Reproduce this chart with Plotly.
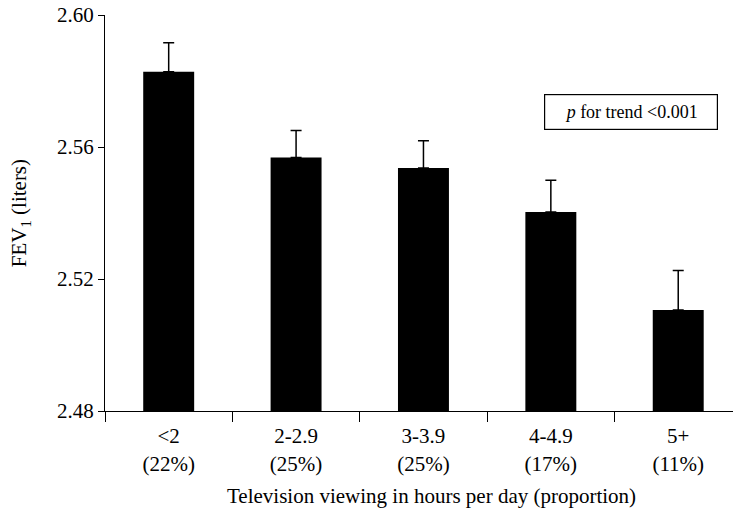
import plotly.graph_objects as go

# Mean FEV1 by daily television viewing
categories = ["<2", "2-2.9", "3-3.9", "4-4.9", "5+"]
proportions = ["22%", "25%", "25%", "17%", "11%"]
fev1_mean = [2.5828, 2.5568, 2.5536, 2.5403, 2.5106]
fev1_se = [0.0088, 0.0082, 0.0083, 0.0096, 0.0120]

y_ticks = [2.48, 2.52, 2.56, 2.60]

FONT = "Liberation Serif, Times New Roman, serif"

tick_text = [f"{c.replace('<', '&lt;')}<br>({p})" for c, p in zip(categories, proportions)]

fig = go.Figure(
    go.Bar(
        x=categories,
        y=[v - y_ticks[0] for v in fev1_mean],
        base=y_ticks[0],
        width=0.4,
        marker=dict(color="black", line=dict(width=0)),
        error_y=dict(
            type="data",
            symmetric=False,
            array=fev1_se,
            arrayminus=[0] * len(fev1_se),
            color="black",
            thickness=1.5,
            width=5.5,
        ),
    )
)

fig.update_layout(
    width=733,
    height=513,
    margin=dict(l=105, r=0, t=15, b=102),
    paper_bgcolor="white",
    plot_bgcolor="white",
    showlegend=False,
    font=dict(family=FONT, size=21, color="black"),
    xaxis=dict(
        type="category",
        range=[-0.5, 4.43],
        tickmode="array",
        tickvals=categories,
        ticktext=tick_text,
        tickson="boundaries",
        ticks="outside",
        ticklen=10,
        tickwidth=1.3,
        tickcolor="black",
        ticklabelstandoff=6,
        showline=True,
        linecolor="black",
        linewidth=1.3,
        showgrid=False,
        zeroline=False,
        fixedrange=True,
    ),
    yaxis=dict(
        range=[y_ticks[0], y_ticks[-1]],
        tickmode="array",
        tickvals=y_ticks,
        ticktext=[f"{t:.2f}" for t in y_ticks],
        ticks="outside",
        ticklen=6,
        tickwidth=1.3,
        tickcolor="black",
        showline=True,
        linecolor="black",
        linewidth=1.3,
        showgrid=False,
        zeroline=False,
        fixedrange=True,
    ),
    annotations=[
        dict(
            text="FEV<sub>1</sub> (liters)",
            textangle=-90,
            xref="paper", yref="paper",
            x=-0.135, y=0.5,
            xanchor="center", yanchor="middle",
            showarrow=False,
            font=dict(family=FONT, size=21),
        ),
        dict(
            text="Television viewing in hours per day (proportion)",
            xref="paper", yref="paper",
            x=0.52, y=-0.215,
            xanchor="center", yanchor="middle",
            showarrow=False,
            font=dict(family=FONT, size=21),
        ),
        dict(
            text="<i>p</i> for trend &lt;0.001",
            xref="paper", yref="paper",
            x=0.838, y=0.755,
            xanchor="center", yanchor="middle",
            showarrow=False,
            bordercolor="black",
            borderwidth=1.2,
            borderpad=7,
            bgcolor="white",
            width=158,
            font=dict(family=FONT, size=18),
        ),
    ],
)

fig.write_html("out.html")
